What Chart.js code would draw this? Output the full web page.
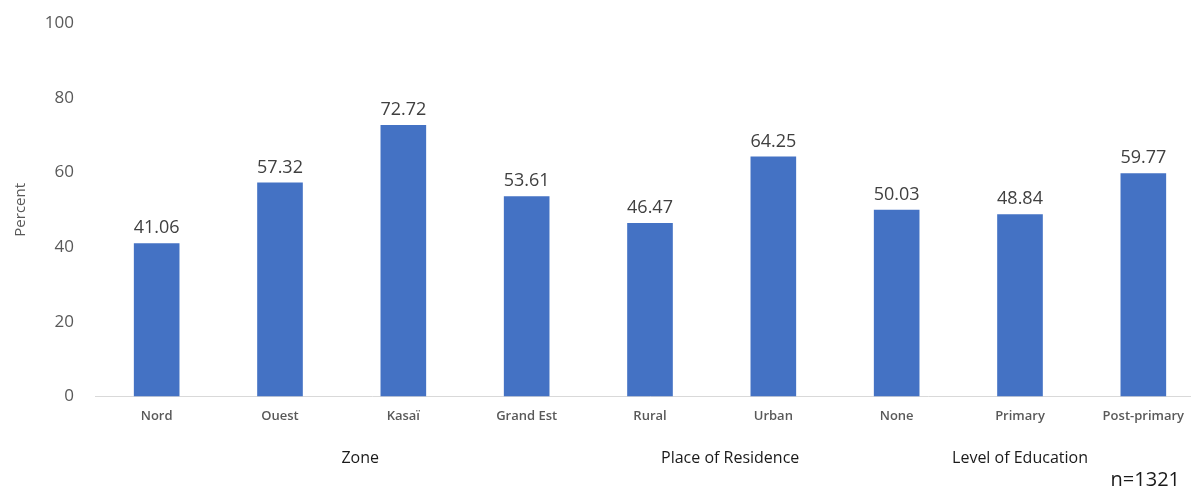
<!DOCTYPE html>
<html>
<head>
<meta charset="utf-8">
<script src="https://cdn.jsdelivr.net/npm/chart.js@4"></script>
<style>
  html, body { margin: 0; padding: 0; background: #fff; overflow: hidden; }
  #wrap { width: 1205px; height: 487px; position: relative; }
</style>
</head>
<body>
<div id="wrap"><canvas id="chart"></canvas></div>
<script>
// categories and values
const categories = ['Nord', 'Ouest', 'Kasaï', 'Grand Est', 'Rural', 'Urban', 'None', 'Primary', 'Post-primary'];
const percentValues = [41.06, 57.32, 72.72, 53.61, 46.47, 64.25, 50.03, 48.84, 59.77];
const groupLabels = ['Zone', 'Place of Residence', 'Level of Education'];
const groupPositions = [1.65, 4.65, 7]; // in category index units
const sampleNote = 'n=1321';

// labels above bars + group labels under axis
const labelPlugin = {
    id: 'labelPlugin',
    afterDatasetsDraw(chart) {
        const ctx = chart.ctx;
        const meta = chart.getDatasetMeta(0);
        ctx.save();
        ctx.font = '18px "Open Sans", sans-serif';
        ctx.fillStyle = '#404040';
        ctx.textAlign = 'center';
        ctx.textBaseline = 'bottom';
        meta.data.forEach((bar, i) => {
            ctx.fillText(percentValues[i].toFixed(2), bar.x, bar.y - 6);
        });

        const xScale = chart.scales.x;
        ctx.font = '16px "Open Sans", sans-serif';
        ctx.fillStyle = '#1a1a1a';
        ctx.textBaseline = 'middle';
        groupLabels.forEach((g, i) => {
            ctx.fillText(g, xScale.getPixelForValue(groupPositions[i]), 458);
        });

        ctx.font = '20px "Open Sans", sans-serif';
        ctx.textAlign = 'right';
        ctx.fillText(sampleNote, 1180, 480);
        ctx.restore();
    }
};

const ctx = document.getElementById('chart').getContext('2d');
new Chart(ctx, {
    type: 'bar',
    data: {
        labels: categories,
        datasets: [{
            data: percentValues,
            backgroundColor: '#4472C4',
            borderWidth: 0,
            barPercentage: 0.37,
            categoryPercentage: 1
        }]
    },
    options: {
        responsive: true,
        maintainAspectRatio: false,
        animation: false,
        layout: { padding: { top: 6, bottom: 59, right: 0, left: 0 } },
        plugins: {
            legend: { display: false },
            tooltip: { enabled: false }
        },
        scales: {
            x: {
                grid: { display: false },
                border: { display: true, color: '#d9d9d9', width: 1 },
                ticks: {
                    color: '#595959',
                    font: { family: '"Open Sans", sans-serif', size: 13, weight: '600' },
                    padding: 4,
                    maxRotation: 0,
                    autoSkip: false
                }
            },
            y: {
                min: 0,
                max: 100,
                afterFit(scale) { scale.width = 95; },
                grid: { display: false },
                border: { display: false },
                ticks: {
                    stepSize: 20,
                    color: '#595959',
                    font: { family: '"Open Sans", sans-serif', size: 17 },
                    padding: 13
                },
                title: {
                    display: true,
                    text: 'Percent',
                    color: '#595959',
                    font: { family: '"Open Sans", sans-serif', size: 15 },
                    padding: { top: 12, bottom: 0 }
                }
            }
        }
    },
    plugins: [labelPlugin]
});
</script>
</body>
</html>
